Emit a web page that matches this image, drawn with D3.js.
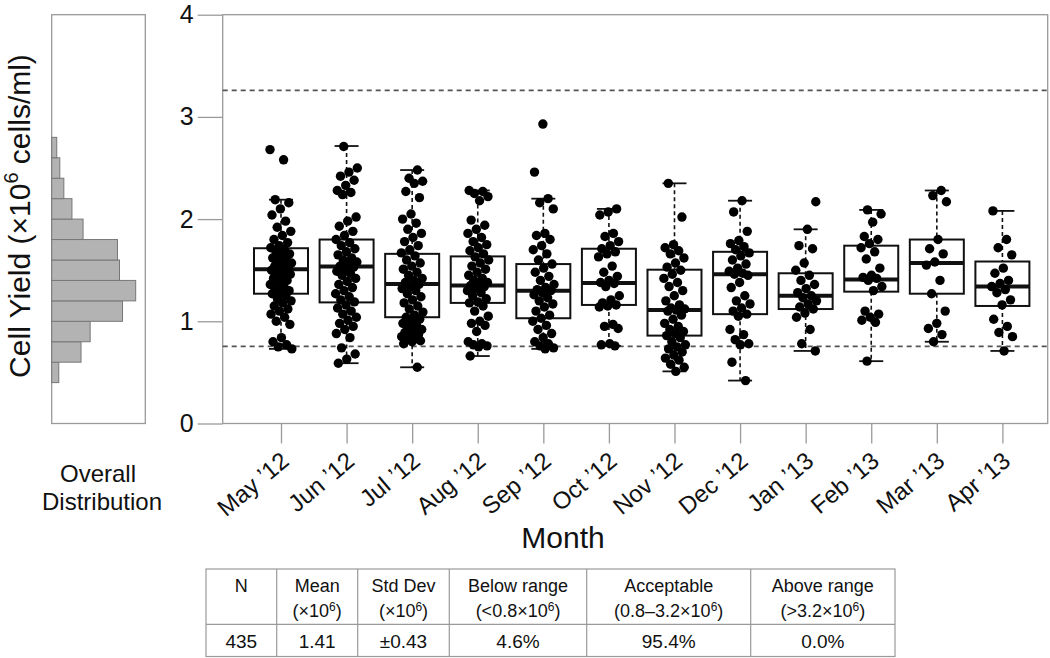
<!DOCTYPE html>
<html>
<head>
<meta charset="utf-8">
<script src="https://cdn.jsdelivr.net/npm/d3@7"></script>
<style>
  html, body { margin: 0; padding: 0; background: #fff; }
  svg { display: block; font-family: "Liberation Sans", Arial, Helvetica, sans-serif; }
</style>
</head>
<body>
<svg id="chart" width="1050" height="658"></svg>
<script>
// ---------------- DATA ----------------
const months = ["May \u201912","Jun \u201912","Jul \u201912","Aug \u201912","Sep \u201912","Oct \u201912",
                "Nov \u201912","Dec \u201912","Jan \u201913","Feb \u201913","Mar \u201913","Apr \u201913"];

const whiskerLow  = [0.73, 0.59, 0.55, 0.66, 0.73, 0.76, 0.51, 0.42, 0.71, 0.61, 0.80, 0.71];
const q1Values    = [1.27, 1.185, 1.04, 1.18, 1.03, 1.16, 0.86, 1.07, 1.12, 1.29, 1.27, 1.15];
const medianValues= [1.51, 1.535, 1.365, 1.35, 1.30, 1.375, 1.11, 1.46, 1.25, 1.41, 1.57, 1.34];
const q3Values    = [1.715, 1.80, 1.66, 1.635, 1.56, 1.71, 1.505, 1.68, 1.47, 1.74, 1.80, 1.585];
const whiskerHigh = [2.19, 2.715, 2.48, 2.28, 2.20, 2.10, 2.35, 2.18, 1.90, 2.09, 2.28, 2.08];

const mayPts = [2.68,2.58,2.19,2.16,2.10,2.04,1.98,1.92,1.88,1.84,1.80,1.77,1.74,1.72,1.70,1.68,1.66,1.64,1.62,1.60,
                1.58,1.57,1.55,1.54,1.52,1.51,1.50,1.49,1.47,1.46,1.44,1.42,1.40,1.38,1.36,1.34,1.32,1.30,1.28,1.27,
                1.25,1.22,1.20,1.18,1.15,1.12,1.10,1.07,1.04,1.00,0.97,0.84,0.80,0.77,0.75,0.73];
const junPts = [2.71,2.50,2.46,2.42,2.38,2.33,2.28,2.26,2.24,2.02,1.98,1.93,1.88,1.84,1.80,1.77,1.74,1.71,1.68,1.65,
                1.62,1.60,1.58,1.56,1.54,1.53,1.51,1.49,1.47,1.45,1.42,1.39,1.36,1.33,1.30,1.27,1.24,1.21,1.19,1.16,
                1.13,1.10,1.07,1.04,1.01,0.98,0.95,0.92,0.88,0.84,0.74,0.68,0.63,0.59];
const julPts = [2.48,2.40,2.37,2.35,2.27,2.21,2.05,2.00,1.96,1.90,1.86,1.82,1.78,1.74,1.70,1.67,1.64,1.60,1.57,1.54,
                1.51,1.48,1.45,1.42,1.40,1.38,1.36,1.34,1.32,1.30,1.27,1.24,1.21,1.18,1.15,1.12,1.09,1.06,1.04,1.02,
                1.00,0.98,0.96,0.94,0.92,0.90,0.89,0.87,0.86,0.85,0.83,0.82,0.81,0.80,0.78,0.55];
const augPts = [2.28,2.27,2.25,2.22,2.18,1.99,1.94,1.90,1.86,1.82,1.78,1.75,1.72,1.69,1.66,1.63,1.60,1.57,1.54,1.51,
                1.48,1.45,1.42,1.40,1.38,1.36,1.35,1.34,1.32,1.30,1.28,1.25,1.22,1.19,1.18,1.15,1.10,1.05,1.00,0.98,
                0.96,0.90,0.80,0.78,0.77,0.76,0.75,0.66];
const sepPts = [2.93,2.46,2.20,2.16,2.10,1.86,1.84,1.80,1.74,1.70,1.66,1.60,1.56,1.52,1.48,1.44,1.40,1.36,1.33,1.31,
                1.30,1.28,1.26,1.23,1.20,1.17,1.14,1.10,1.06,1.03,1.00,0.96,0.92,0.88,0.84,0.80,0.78,0.76,0.74,0.73];
const octPts = [2.10,2.07,2.04,1.86,1.83,1.78,1.74,1.71,1.68,1.66,1.63,1.54,1.48,1.44,1.40,1.38,1.37,1.34,1.25,1.21,
                1.18,1.16,1.15,1.14,0.97,0.95,0.93,0.78,0.77,0.76];
const novPts = [2.35,2.02,1.75,1.72,1.69,1.66,1.62,1.57,1.53,1.50,1.46,1.42,1.38,1.34,1.30,1.25,1.20,1.16,1.13,1.12,
                1.11,1.10,1.06,1.02,0.98,0.95,0.92,0.90,0.88,0.86,0.84,0.80,0.77,0.75,0.73,0.70,0.67,0.64,0.62,0.58,
                0.55,0.51];
const decPts = [2.18,2.07,1.88,1.79,1.76,1.73,1.70,1.67,1.64,1.60,1.56,1.52,1.49,1.47,1.46,1.45,1.38,1.33,1.25,1.20,
                1.17,1.13,1.10,1.07,1.05,0.92,0.87,0.82,0.78,0.77,0.60,0.42];
const janPts = [2.17,1.90,1.74,1.71,1.57,1.50,1.45,1.40,1.36,1.32,1.28,1.25,1.23,1.20,1.17,1.14,1.12,1.08,1.04,0.92,
                0.78,0.71];
const febPts = [2.09,2.05,1.97,1.83,1.80,1.76,1.72,1.68,1.61,1.52,1.45,1.43,1.42,1.40,1.34,1.30,1.10,1.07,1.04,1.01,
                0.99,0.61];
const marPts = [2.28,2.23,2.17,1.80,1.71,1.66,1.58,1.55,1.40,1.27,1.10,0.98,0.93,0.87,0.80];
const aprPts = [2.08,1.80,1.72,1.65,1.52,1.47,1.40,1.37,1.34,1.31,1.28,1.21,1.16,1.02,0.95,0.89,0.85,0.71];

const pointsByMonth = [mayPts, junPts, julPts, augPts, sepPts, octPts, novPts, decPts, janPts, febPts, marPts, aprPts];

const lowerLimit = 0.755;
const upperLimit = 3.26;

const yTicks = [0, 1, 2, 3, 4];

const histLower  = [0.4, 0.6, 0.8, 1.0, 1.2, 1.4, 1.6, 1.8, 2.0, 2.2, 2.4, 2.6];
const histUpper  = [0.6, 0.8, 1.0, 1.2, 1.4, 1.6, 1.8, 2.0, 2.2, 2.4, 2.6, 2.8];
const histCounts = [7, 29, 38, 70, 83, 67, 65, 31, 20, 12, 8, 5];

const tableHead1 = ["N", "Mean", "Std Dev", "Below range", "Acceptable", "Above range"];
const tableHead2 = ["", "(\u00d710^6)", "(\u00d710^6)", "(<0.8\u00d710^6)", "(0.8\u20133.2\u00d710^6)", "(>3.2\u00d710^6)"];
const tableVals  = ["435", "1.41", "\u00b10.43", "4.6%", "95.4%", "0.0%"];

// ---------------- LAYOUT ----------------
const svg = d3.select("#chart");
const plot = { left: 222.7, right: 1047.7, top: 14.7, bottom: 423.5 };
const hist = { left: 51.7, right: 145.3 };
const gridGrey = "#9a9a9a";

const y = d3.scaleLinear().domain([0, 4]).range([plot.bottom, plot.top]);
const x = d3.scalePoint().domain(months).range([281, 1002.4]);
const hx = d3.scaleLinear().domain([0, 92.5]).range([hist.left, hist.right]);

// ---- Histogram panel ----
svg.append("rect")
  .attr("x", hist.left).attr("y", plot.top)
  .attr("width", hist.right - hist.left).attr("height", plot.bottom - plot.top)
  .attr("fill", "none").attr("stroke", gridGrey).attr("stroke-width", 1.3);

svg.append("g").selectAll("rect")
  .data(histCounts.map((c, i) => ({ c, lo: histLower[i], hi: histUpper[i] })))
  .join("rect")
  .attr("x", hx(0))
  .attr("y", d => y(d.hi))
  .attr("width", d => hx(d.c) - hx(0))
  .attr("height", d => y(d.lo) - y(d.hi))
  .attr("fill", "#b3b3b3")
  .attr("stroke", "#777")
  .attr("stroke-width", 1);

const od = svg.append("text").attr("text-anchor", "middle")
  .attr("font-size", 24).attr("fill", "#111");
od.append("tspan").attr("x", 98).attr("y", 482).text("Overall");
od.append("tspan").attr("x", 102).attr("y", 510).text("Distribution");

// ---- Y axis label ----
const yl = svg.append("text")
  .attr("transform", "translate(30,216) rotate(-90)")
  .attr("text-anchor", "middle").attr("font-size", 30).attr("fill", "#111");
yl.append("tspan").text("Cell Yield (\u00d710");
yl.append("tspan").attr("font-size", 20).attr("dy", -12).text("6");
yl.append("tspan").attr("dy", 12).text(" cells/ml)");

// ---- Main frame ----
svg.append("rect")
  .attr("x", plot.left).attr("y", plot.top)
  .attr("width", plot.right - plot.left).attr("height", plot.bottom - plot.top)
  .attr("fill", "none").attr("stroke", gridGrey).attr("stroke-width", 1.3);

// ---- Y axis ----
const yAxis = svg.append("g")
  .attr("transform", `translate(${plot.left},0)`)
  .call(d3.axisLeft(y).tickValues(yTicks).tickFormat(d3.format("d")).tickSize(25).tickPadding(4));
yAxis.select(".domain").remove();
yAxis.selectAll("line").attr("stroke", gridGrey).attr("stroke-width", 1.3);
yAxis.selectAll("text").attr("font-size", 25).attr("fill", "#111")
  .attr("font-family", "'Liberation Sans', Arial, sans-serif");

// ---- X axis ----
const xAxis = svg.append("g")
  .attr("transform", `translate(0,${plot.bottom})`)
  .call(d3.axisBottom(x).tickSize(20));
xAxis.select(".domain").remove();
xAxis.selectAll("line").attr("stroke", gridGrey).attr("stroke-width", 1.3);
xAxis.selectAll("text")
  .attr("x", 0).attr("y", 0).attr("dy", 0)
  .attr("transform", "translate(9,40) rotate(-40)")
  .style("text-anchor", "end")
  .attr("font-size", 24).attr("fill", "#111")
  .attr("font-family", "'Liberation Sans', Arial, sans-serif");

svg.append("text").attr("x", 563).attr("y", 548)
  .attr("text-anchor", "middle").attr("font-size", 30).attr("fill", "#111").text("Month");

// ---- Limit lines ----
[lowerLimit, upperLimit].forEach(v => {
  svg.append("line")
    .attr("x1", plot.left).attr("x2", plot.right)
    .attr("y1", y(v)).attr("y2", y(v))
    .attr("stroke", "#555").attr("stroke-width", 1.6)
    .attr("stroke-dasharray", "5,4");
});

// ---- Boxplots ----
const boxW = 54, capW = 24;
const boxes = months.map((m, i) => ({
  m, lo: whiskerLow[i], q1: q1Values[i], med: medianValues[i], q3: q3Values[i], hi: whiskerHigh[i]
}));
const bg = svg.append("g");
boxes.forEach(b => {
  const cx = x(b.m);
  bg.append("line").attr("x1", cx).attr("x2", cx).attr("y1", y(b.hi)).attr("y2", y(b.q3))
    .attr("stroke", "#111").attr("stroke-width", 1.6).attr("stroke-dasharray", "4,3");
  bg.append("line").attr("x1", cx).attr("x2", cx).attr("y1", y(b.q1)).attr("y2", y(b.lo))
    .attr("stroke", "#111").attr("stroke-width", 1.6).attr("stroke-dasharray", "4,3");
  [b.hi, b.lo].forEach(v => bg.append("line")
    .attr("x1", cx - capW / 2).attr("x2", cx + capW / 2).attr("y1", y(v)).attr("y2", y(v))
    .attr("stroke", "#111").attr("stroke-width", 1.8));
  bg.append("rect").attr("x", cx - boxW / 2).attr("y", y(b.q3))
    .attr("width", boxW).attr("height", y(b.q1) - y(b.q3))
    .attr("fill", "#fff").attr("stroke", "#111").attr("stroke-width", 2);
  bg.append("line").attr("x1", cx - boxW / 2).attr("x2", cx + boxW / 2)
    .attr("y1", y(b.med)).attr("y2", y(b.med))
    .attr("stroke", "#111").attr("stroke-width", 4);
});

// ---- Points (deterministic jitter) ----
const pg = svg.append("g");
months.forEach((m, mi) => {
  const cx = x(m);
  pg.selectAll(null)
    .data(pointsByMonth[mi])
    .join("circle")
    .attr("cx", (d, i) => cx + (((i * 0.618034 + mi * 0.37) % 1) - 0.5) * 22)
    .attr("cy", d => y(d))
    .attr("r", 4.7)
    .attr("fill", "#000");
});

// ---- Table ----
const colEdges = [206, 276.7, 357.7, 449.3, 586.7, 750.7, 895];
const tTop = 569, tMid = 624.3, tBot = 656.5;
const tg = svg.append("g");
tg.append("rect").attr("x", colEdges[0]).attr("y", tTop)
  .attr("width", colEdges[6] - colEdges[0]).attr("height", tBot - tTop)
  .attr("fill", "none").attr("stroke", gridGrey).attr("stroke-width", 1.2);
tg.append("line").attr("x1", colEdges[0]).attr("x2", colEdges[6]).attr("y1", tMid).attr("y2", tMid)
  .attr("stroke", gridGrey).attr("stroke-width", 1.2);
colEdges.slice(1, 6).forEach(cx => tg.append("line").attr("x1", cx).attr("x2", cx)
  .attr("y1", tTop).attr("y2", tBot).attr("stroke", gridGrey).attr("stroke-width", 1.2));

tableHead1.forEach((h, i) => {
  const cx = (colEdges[i] + colEdges[i + 1]) / 2;
  tg.append("text").attr("x", cx).attr("y", 592).attr("text-anchor", "middle")
    .attr("font-size", 18).attr("fill", "#111").text(h);
  const h2 = tableHead2[i];
  if (h2) {
    const parts = h2.split("^6");
    const t = tg.append("text").attr("x", cx).attr("y", 617).attr("text-anchor", "middle")
      .attr("font-size", 18).attr("fill", "#111");
    t.append("tspan").text(parts[0]);
    t.append("tspan").attr("font-size", 12).attr("dy", -6).text("6");
    t.append("tspan").attr("dy", 6).text(parts[1]);
  }
  tg.append("text").attr("x", cx).attr("y", 648).attr("text-anchor", "middle")
    .attr("font-size", 19).attr("fill", "#111").text(tableVals[i]);
});
</script>
</body>
</html>
